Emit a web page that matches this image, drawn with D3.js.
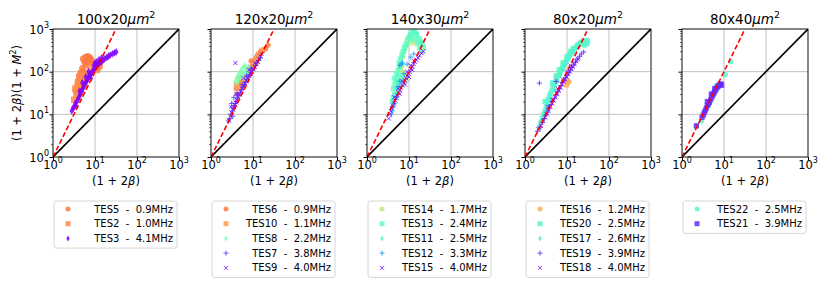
<!DOCTYPE html>
<html><head><meta charset="utf-8">
<script src="https://cdn.jsdelivr.net/npm/d3@7"></script>
<style>body{margin:0;background:#fff}svg{display:block;font-family:"DejaVu Sans",sans-serif}</style>
</head><body><svg id="c" width="830" height="293"></svg>
<script>
// ---------- data ----------
const panelTitles = ["100x20", "120x20", "140x30", "80x20", "80x40"];
const tickValues = [1, 10, 100, 1000];
const tickExponents = ["0", "1", "2", "3"];

// panel 1
const TES5 = [[5.2,200],[6.0,220],[6.8,230],[7.5,215],[8.2,190],[5.6,170],[6.5,180],[7.2,160],[6.0,140],[5.0,120],[4.6,95],[4.2,80],[3.9,60],[4.5,70],[5.3,100],[9.0,150],[10.5,130],[12,120],[4.0,45],[3.5,35]];
const TES2 = [[3.2,22],[3.6,28],[4.0,33],[4.4,40],[4.8,48],[5.2,55],[5.6,62],[6.0,70],[6.5,80],[7.0,90],[3.8,45],[4.3,60],[5.0,80],[8.0,110],[9.5,120],[11,110],[13,140],[3.4,40],[4.6,30],[5.5,45]];
const TES3 = [[2.8,12],[3.0,14],[3.2,15],[3.4,18],[3.7,20],[4.0,23],[4.2,26],[4.5,30],[4.8,35],[5.1,40],[5.4,45],[5.8,52],[6.2,58],[6.6,65],[7.0,72],[7.4,80],[7.9,88],[8.4,95],[9.0,105],[9.6,115],[10.3,125],[11,135],[12,150],[13,160],[14,170],[15.5,185],[17,200],[19,215],[21,230],[23,245],[26,260],[29,275],[32,290],[14.5,210],[12.5,190],[11,170],[9.5,140],[6,75],[5,55],[4.3,35],[3.5,16],[8,70],[7,100],[10,160]];
// panel 2
const TES6 = [[4.0,40],[4.5,50],[5.0,60],[5.5,75],[6.5,90],[7.5,110],[8.5,130],[10,160],[11,190],[12,220],[13,250],[15,280],[17,300],[20,350],[23,420],[4.2,30],[5.2,45],[9,180],[6,55]];
const TES10 = [[4.5,45],[5,55],[5.5,65],[6,70],[7,85],[8,100],[9,120],[10,140],[11,170],[12,200],[13,230],[14,260],[15,290],[16,310],[18,330],[4,50],[4.8,70],[6.2,80]];
const TES8 = [[3.8,60],[4.0,70],[4.3,80],[4.6,90],[5.0,100],[5.3,110],[5.6,120],[6.0,130],[6.5,140],[7.0,120],[7.5,110],[6.5,100],[6,90],[5.5,85],[5,75],[4.5,65],[4.2,55],[5.8,70],[6.8,85],[7.5,95],[8,130]];
const TES7 = [[2.6,7],[2.8,8],[3.0,10],[3.2,12],[3.4,14],[3.6,16],[3.8,18],[4.0,20],[4.3,24],[4.6,28],[5.0,33],[5.4,38],[5.8,44],[6.2,50],[6.7,58],[7.2,66],[7.8,75],[8.4,85],[9.0,95],[9.8,110],[10.5,120],[11.5,140],[12.5,160],[13.5,185],[15,210],[3.1,18],[3.5,25],[4.2,30],[5.5,50],[7,80],[9,120],[3.3,9]];
const TES9 = [[2.7,7],[2.9,9],[3.1,11],[3.3,13],[3.5,15],[3.7,17],[3.9,19],[4.1,22],[4.4,25],[4.7,29],[5.1,34],[5.5,40],[6.0,46],[6.5,53],[7.0,60],[7.6,70],[8.2,80],[8.8,90],[9.5,100],[10.2,115],[11,130],[12,150],[13,170],[14,200],[15,230],[16,260],[3.8,160],[3.0,15],[4.0,30],[6,70],[8,110],[11,160]];
// panel 3
const TES14 = [[9.5,620],[10.5,580],[11.5,520],[12.5,470],[10,480],[9,420],[8,350],[7.5,280],[7,220],[6.5,170],[6.2,130],[6.5,110],[7.2,95],[8,80],[8.5,65],[7.8,60],[6.8,140]];
const TES13 = [[4.0,20],[4.2,25],[4.5,30],[4.3,40],[4.6,50],[5.0,60],[5.3,75],[5.0,90],[5.5,110],[6.0,130],[5.8,160],[6.3,200],[6.8,250],[7.2,300],[7.8,380],[8.5,450],[9.2,550],[10,650],[11,750],[12,850],[13.5,800],[15,700],[17,600],[19,500],[21,420],[22,360],[20,300],[18,350],[16,450],[14,550],[12,600],[6,60],[7,80],[5,40],[4.5,70],[5.5,50]];
const TES11 = [[4.0,15],[4.3,22],[4.7,28],[5.2,35],[5.8,45],[6.3,55],[7.0,70],[4.8,60],[5.5,90],[6.2,150],[7.0,230],[8.0,320],[9.0,420],[10.5,700],[12,900],[14,950],[16,800],[20,500]];
const TES12 = [[4.0,12],[4.2,15],[4.5,18],[5.0,25],[6.0,140],[6.5,150],[7.0,160],[5.5,45],[6.0,60],[7.5,90],[9,150],[11,220],[13,260],[3.8,10]];
const TES15 = [[3.3,8],[3.5,10],[3.7,12],[3.9,14],[4.1,16],[4.4,18],[4.7,21],[5.0,24],[5.3,28],[5.7,32],[6.1,37],[6.5,42],[7.0,48],[7.5,55],[8.0,62],[8.6,70],[9.2,80],[9.8,90],[10.5,100],[11.2,115],[12,130],[13,150],[14,170],[15,190],[16.5,210],[18,240],[20,270],[22,300],[4.5,25],[5.5,40],[7,60],[9,100],[11,140],[13,180],[6,30],[8,50],[10,75],[12,110]];
// panel 4
const TES16 = [[10.3,54],[9.8,48],[10.8,60],[19.5,430],[20.5,460],[11,58]];
const TES20 = [[2.2,5],[2.4,6.5],[2.6,8],[2.8,10],[3.0,12],[3.2,15],[3.4,18],[3.6,22],[3.8,26],[4.0,30],[4.3,35],[4.6,42],[5.0,50],[5.4,60],[5.8,70],[6.2,82],[6.7,95],[7.2,110],[7.8,125],[8.4,145],[9.0,165],[9.8,190],[10.5,210],[11.5,240],[12.5,270],[13.5,300],[15,340],[16.5,380],[18,420],[20,460],[22,490],[25,520],[28,540],[31,520],[30,450],[26,420],[4.5,55],[5.5,80],[6.5,110],[8,160],[10,230],[3,20],[12,300],[14,350]];
const TES17 = [[2.5,7],[3,11],[3.5,16],[4,22],[5,38],[6,60],[7,85],[8,110],[9,140],[10,170],[12,230],[14,290],[17,360]];
const TES19 = [[2.2,54],[5.5,59],[2.0,4],[2.3,5],[2.6,6.5],[2.9,8],[3.2,10],[3.5,12],[3.8,14],[4.2,17],[4.6,20],[5.0,24],[5.5,29],[6.0,34],[6.6,40],[7.2,47],[7.8,55],[8.5,63],[9.2,72],[10,82],[11,95],[12,110],[13,125],[14.5,145],[16,170],[18,200],[20,230],[22,260],[25,290]];
const TES18 = [[2.1,4.5],[2.4,5.5],[2.7,7],[3.0,8.5],[3.3,10],[3.6,12],[4.0,15],[4.4,18],[4.8,21],[5.3,25],[5.8,30],[6.4,36],[7.0,42],[7.6,50],[8.3,58],[9,66],[9.8,76],[10.7,88],[11.6,100],[12.6,115],[13.8,130],[15,150],[16.5,175],[18,200],[3.5,15],[4.5,22],[6,40],[8,65],[10,100],[12,140]];
// panel 5
const TES22 = [[2.2,5.2],[2.9,7],[4.6,19],[6.6,48],[10.7,85],[14.5,170]];
const TES21 = [[2.2,5.4],[3.0,8.5],[3.2,9.5],[3.4,11],[3.6,12.5],[3.8,14],[4.0,16],[4.2,17],[4.5,19],[4.8,22],[5.1,25],[5.4,28],[5.7,31],[6.0,34],[6.4,38],[6.8,42],[7.2,45],[7.6,48],[8.0,50],[8.4,52],[8.8,48],[4.0,20],[5.0,30],[6.0,40]];

// series: [name, freq MHz, marker, data]
const panelSeries = [
  [["TES5", 0.9, "o", TES5], ["TES2", 1.0, "s", TES2], ["TES3", 4.1, "d", TES3]],
  [["TES6", 0.9, "o", TES6], ["TES10", 1.1, "s", TES10], ["TES8", 2.2, "d", TES8], ["TES7", 3.8, "+", TES7], ["TES9", 4.0, "x", TES9]],
  [["TES14", 1.7, "o", TES14], ["TES13", 2.4, "s", TES13], ["TES11", 2.5, "d", TES11], ["TES12", 3.3, "+", TES12], ["TES15", 4.0, "x", TES15]],
  [["TES16", 1.2, "o", TES16], ["TES20", 2.5, "s", TES20], ["TES17", 2.6, "d", TES17], ["TES19", 3.9, "+", TES19], ["TES18", 4.0, "x", TES18]],
  [["TES22", 2.5, "o", TES22], ["TES21", 3.9, "s", TES21]]
];

// ---------- layout ----------
const svg = d3.select("#c");
const lefts = [53, 211, 367, 525, 682];
const PW = 126, PT = 29, PH = 128;
const FS = 11.5, SUP = 8;

function rainbow(f) {
  let t = (4.1 - f) / 3.8; t = Math.max(0, Math.min(1, t));
  const r = Math.min(1, Math.abs(2 * t - 0.5)), g = Math.sin(Math.PI * t), b = Math.cos(Math.PI * t / 2);
  return d3.rgb(r * 255, g * 255, b * 255).formatHex();
}
function markerPath(m, s) {
  const h = s / 2;
  if (m === "o") return d3.symbol(d3.symbolCircle, Math.PI * h * h)();
  if (m === "s") return `M${-h},${-h}H${h}V${h}H${-h}Z`;
  if (m === "d") return `M0,${-h * 1.2}L${h * 0.7},0L0,${h * 1.2}L${-h * 0.7},0Z`;
  if (m === "+") return `M${-h},0H${h}M0,${-h}V${h}`;
  if (m === "x") return `M${-h * 0.8},${-h * 0.8}L${h * 0.8},${h * 0.8}M${-h * 0.8},${h * 0.8}L${h * 0.8},${-h * 0.8}`;
}
function drawMarker(g, m, color, s, x, y, op) {
  const p = g.append("path").attr("d", markerPath(m, s)).attr("transform", `translate(${x},${y})`).attr("opacity", op);
  if (m === "+" || m === "x") p.attr("fill", "none").attr("stroke", color).attr("stroke-width", 1);
  else p.attr("fill", color);
}
function pow10Label(sel, exp) {
  sel.append("tspan").text("10");
  sel.append("tspan").text(exp).attr("font-size", SUP).attr("dy", -5.5);
}

panelSeries.forEach((series, pi) => {
  const L = lefts[pi];
  const x = d3.scaleLog().domain([1, 1000]).range([L, L + PW]);
  const y = d3.scaleLog().domain([1, 1000]).range([PT + PH, PT]);
  const g = svg.append("g");

  // grid
  tickValues.forEach(v => {
    g.append("line").attr("x1", x(v)).attr("x2", x(v)).attr("y1", PT).attr("y2", PT + PH).attr("stroke", "#b0b0b0").attr("stroke-width", 0.8);
    g.append("line").attr("y1", y(v)).attr("y2", y(v)).attr("x1", L).attr("x2", L + PW).attr("stroke", "#b0b0b0").attr("stroke-width", 0.8);
  });

  // clip
  svg.append("clipPath").attr("id", "clip" + pi).append("rect").attr("x", L).attr("y", PT).attr("width", PW).attr("height", PH);
  const pg = g.append("g").attr("clip-path", `url(#clip${pi})`);

  // points
  const ms = pi === 0 ? 6.5 : 5.2;
  series.forEach(([name, f, m, data]) => {
    const col = rainbow(f);
    data.forEach(d => drawMarker(pg, m, col, ms, x(d[0]), y(d[1]), 0.85));
  });

  // reference lines
  const line = d3.line().x(d => x(d[0])).y(d => y(d[1]));
  pg.append("path").attr("d", line([[1, 1], [1000, 1000]])).attr("stroke", "#000").attr("stroke-width", 1.6).attr("fill", "none");
  pg.append("path").attr("d", line([[1, 1], [Math.sqrt(1000), 1000]])).attr("stroke", "#ff0000").attr("stroke-width", 1.6).attr("stroke-dasharray", "5,2.5").attr("fill", "none");

  // frame
  g.append("rect").attr("x", L).attr("y", PT).attr("width", PW).attr("height", PH).attr("fill", "none").attr("stroke", "#000").attr("stroke-width", 0.8);

  // x axis ticks
  const xa = d3.axisBottom(x).tickValues(tickValues).tickSize(3.5).tickFormat("");
  g.append("g").attr("transform", `translate(0,${PT + PH})`).call(xa).call(s => s.select(".domain").remove());
  tickValues.forEach((v, i) => {
    const t = g.append("text").attr("x", x(v)).attr("y", PT + PH + 11.5).attr("text-anchor", "middle").attr("font-size", FS);
    pow10Label(t, tickExponents[i]);
  });
  // y axis ticks (major + minor)
  const minor = [];
  for (let e = 0; e < 3; e++) for (let k = 2; k <= 9; k++) minor.push(k * Math.pow(10, e));
  const ya = d3.axisLeft(y).tickValues(tickValues).tickSize(3.5).tickFormat("");
  g.append("g").attr("transform", `translate(${L},0)`).call(ya).call(s => s.select(".domain").remove());
  const yam = d3.axisLeft(y).tickValues(minor).tickSize(2).tickFormat("");
  g.append("g").attr("transform", `translate(${L},0)`).call(yam).call(s => s.select(".domain").remove()).selectAll("line").attr("stroke-width", 0.6);
  if (pi === 0) {
    tickValues.forEach((v, i) => {
      const t = g.append("text").attr("x", L - 4).attr("y", y(v) + 4.5).attr("text-anchor", "end").attr("font-size", FS);
      pow10Label(t, tickExponents[i]);
    });
    const yl = g.append("text").attr("transform", `translate(21,${PT + PH / 2}) rotate(-90)`).attr("text-anchor", "middle").attr("font-size", FS);
    yl.append("tspan").text("(1 + 2");
    yl.append("tspan").text("β").attr("font-style", "italic");
    yl.append("tspan").text(")(1 + ");
    yl.append("tspan").text("M").attr("font-style", "italic");
    yl.append("tspan").text("2").attr("font-size", SUP).attr("dy", -5.5);
    yl.append("tspan").text(")").attr("dy", 5.5);
  }
  // x label
  const xl = g.append("text").attr("x", L + PW / 2).attr("y", 185).attr("text-anchor", "middle").attr("font-size", FS);
  xl.append("tspan").text("(1 + 2");
  xl.append("tspan").text("β").attr("font-style", "italic");
  xl.append("tspan").text(")");

  // title
  const tt = g.append("text").attr("x", L + PW / 2).attr("y", 24).attr("text-anchor", "middle").attr("font-size", 13.5);
  tt.append("tspan").text(panelTitles[pi]);
  tt.append("tspan").text("μm").attr("font-style", "italic");
  tt.append("tspan").text("2").attr("font-size", 9.5).attr("dy", -6.5);

  // legend
  const lg = svg.append("g");
  const LX = L + 1, LW = 123, LY = 201, rowH = 14.7;
  const LH = series.length * rowH + 3;
  lg.append("rect").attr("x", LX).attr("y", LY).attr("width", LW).attr("height", LH).attr("rx", 2.5)
    .attr("fill", "#fff").attr("stroke", "#cccccc").attr("stroke-width", 0.8);
  series.forEach(([name, f, m], i) => {
    const cy = LY + 8 + i * rowH;
    drawMarker(lg, m, rainbow(f), 5, LX + 14, cy, 0.85);
    lg.append("text").attr("x", LX + LW - 4).attr("y", cy + 3.6).attr("text-anchor", "end").attr("font-size", 10)
      .attr("xml:space", "preserve").style("white-space", "pre").text(`${name}  -  ${f.toFixed(1)}MHz`);
  });
});
</script>
</body></html>
